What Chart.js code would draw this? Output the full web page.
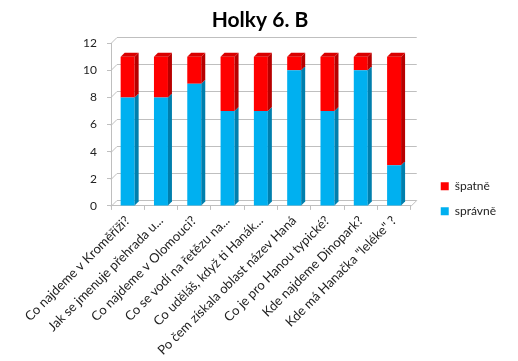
<!DOCTYPE html>
<html><head><meta charset="utf-8">
<script src="https://cdn.jsdelivr.net/npm/chart.js@4.4.1/dist/chart.umd.min.js"></script>
<style>html,body{margin:0;padding:0;background:#fff}#wrap{width:518px;height:361px}</style>
</head><body><div id="wrap"><canvas id="c" width="518" height="361"></canvas></div>
<script>
const categories = [
  "Co najdeme v Kroměříži?",
  "Jak se jmenuje přehrada u...",
  "Co najdeme v Olomouci?",
  "Co se vodí na řetězu na...",
  "Co uděláš, když ti Hanák...",
  "Po čem získala oblast název Haná",
  "Co je pro Hanou typické?",
  "Kde najdeme Dinopark?",
  "Kde má Hanačka \"leléke\" ?"
];
const spravne = [8, 8, 9, 7, 7, 10, 7, 10, 3];
const spatne  = [3, 3, 2, 4, 4, 1, 4, 1, 8];
const yTicks = [0, 2, 4, 6, 8, 10, 12];
const title = "Holky 6. B";

const FONT = "Lato, 'Open Sans', sans-serif";
const D = 6, BD = 4;
function shade(hex, f){const n=parseInt(hex.slice(1),16);let r=n>>16,g=(n>>8)&255,b=n&255;return `rgb(${Math.round(r*f)},${Math.round(g*f)},${Math.round(b*f)})`;}

const wallPlugin = {
  id: 'wall',
  beforeDatasetsDraw(chart){
    const {ctx, chartArea:a, scales:{y}} = chart;
    ctx.save();
    ctx.strokeStyle = '#bfbfbf'; ctx.lineWidth = 1;
    yTicks.forEach(v=>{
      const py = Math.round(y.getPixelForValue(v))+0.5;
      ctx.beginPath();
      ctx.moveTo(a.left, py); ctx.lineTo(a.left+D, py-D); ctx.lineTo(a.right+D, py-D);
      ctx.stroke();
    });
    const pb = Math.round(y.getPixelForValue(0))+0.5;
    ctx.beginPath(); ctx.moveTo(a.right, pb); ctx.lineTo(a.right+D, pb-D); ctx.stroke();
    ctx.restore();
  },
  afterDatasetsDraw(chart){
    const {ctx} = chart;
    const n = chart.data.datasets.length;
    ctx.save();
    chart.data.datasets.forEach((ds, di)=>{
      const meta = chart.getDatasetMeta(di);
      meta.data.forEach(el=>{
        const {x, y:ty, base, width} = el.getProps(['x','y','base','width'], true);
        const l = x-width/2, r = x+width/2;
        ctx.fillStyle = shade(ds.backgroundColor, 0.72);
        ctx.beginPath();
        ctx.moveTo(r, ty); ctx.lineTo(r+BD, ty-BD); ctx.lineTo(r+BD, base-BD); ctx.lineTo(r, base); ctx.closePath(); ctx.fill();
        if (di === n-1){
          ctx.fillStyle = shade(ds.backgroundColor, 0.85);
          ctx.beginPath();
          ctx.moveTo(l, ty); ctx.lineTo(l+BD, ty-BD); ctx.lineTo(r+BD, ty-BD); ctx.lineTo(r, ty); ctx.closePath(); ctx.fill();
        }
      });
    });
    ctx.restore();
  }
};

new Chart(document.getElementById('c'), {
  type: 'bar',
  data: {
    labels: categories,
    datasets: [
      {label: 'správně', data: spravne, backgroundColor: '#00b0f0', barPercentage: 0.42, categoryPercentage: 1},
      {label: 'špatně', data: spatne, backgroundColor: '#ff0000', barPercentage: 0.42, categoryPercentage: 1}
    ]
  },
  options: {
    responsive: false,
    animation: false,
    layout: {padding: {left: 14, right: 12, top: 0, bottom: 0}},
    plugins: {
      title: {display: true, text: title, color: '#000', font: {family: FONT, size: 21, weight: 'bold'}, padding: {top: 8, bottom: 10}},
      legend: {
        position: 'right', reverse: true,
        title: {display: true, text: ' ', font: {family: FONT, size: 12}, padding: {top: 0, bottom: 22}},
        labels: {boxWidth: 8, boxHeight: 8, padding: 13, color: '#222', font: {family: FONT, size: 12}}
      },
      tooltip: {enabled: false}
    },
    scales: {
      x: {
        stacked: true,
        grid: {display: true, drawOnChartArea: false, tickLength: 4, color: '#bfbfbf', offset: true},
        border: {display: true, color: '#bfbfbf'},
        ticks: {maxRotation: 45, minRotation: 45, autoSkip: false, color: '#222', font: {family: FONT, size: 13}, padding: 3}
      },
      y: {
        stacked: true, min: 0, max: 12,
        afterBuildTicks: s => { s.ticks = yTicks.map(v => ({value: v})); },
        afterFit: s => { s.width = 97; },
        grid: {display: true, drawOnChartArea: false, tickLength: 4, color: '#bfbfbf'},
        border: {display: true, color: '#bfbfbf'},
        ticks: {color: '#222', padding: 10, font: {family: FONT, size: 12}}
      },
      yR: {
        position: 'right', display: true,
        grid: {display: false}, border: {display: false}, ticks: {display: false},
        afterFit: s => { s.width = 17; }
      }
    }
  },
  plugins: [wallPlugin]
});
</script></body></html>
